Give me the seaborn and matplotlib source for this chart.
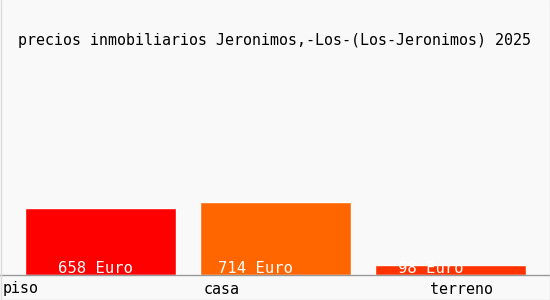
import matplotlib
matplotlib.use("Agg")
import matplotlib.pyplot as plt
import seaborn as sns
import pandas as pd
from matplotlib.lines import Line2D

categories = ["piso", "casa", "terreno"]
values = [658, 714, 98]
value_labels = ["658 Euro", "714 Euro", "98 Euro"]
colors = ["#ff0000", "#ff6600", "#ff3300"]
title = "precios inmobiliarios Jeronimos,-Los-(Los-Jeronimos) 2025"

df = pd.DataFrame({"cat": categories, "val": values})

sns.set_theme(style="white")
plt.rcParams["font.family"] = ["DejaVu Sans Mono"]

W, H = 550, 300
fig = plt.figure(figsize=(5.5, 3.0), dpi=100)
fig.patch.set_facecolor("#f9f9f9")
# axes from x=0..550, y=60..275 (pixels from top)
ax = fig.add_axes([0, (H - 275) / H, 1, (275 - 60) / H])
ax.set_facecolor("#f9f9f9")

sns.barplot(data=df, x="cat", y="val", hue="cat", palette=colors,
            width=151 / 175, legend=False, ax=ax, saturation=1)

ax.set_xlim(-100.5 / 175, (550 - 100.5) / 175)
ax.set_ylim(0, 2110)
ax.set_xticks([])
ax.set_yticks([])
ax.set_xlabel("")
ax.set_ylabel("")
for s in ["top", "left", "right"]:
    ax.spines[s].set_visible(False)
ax.spines["bottom"].set_color("#999999")
ax.spines["bottom"].set_linewidth(1)

# horizontal label offsets (pixels) relative to bar centre
label_dx = [-5, -20, -20]
for i, (lab, dx) in enumerate(zip(value_labels, label_dx)):
    ax.annotate(lab, xy=(i, 0), xytext=(dx * 0.72, 5.0), textcoords="offset points",
                ha="center", va="center", color="white", fontsize=11.2)

# category labels below the axis
label_px = [3, 204, 430]
for lab, px in zip(categories, label_px):
    fig.text(px / W, 1 - 289 / H, lab, ha="left", va="center",
             fontsize=10.8, color="black")

fig.text(275 / W, 1 - 40 / H, title, ha="center", va="center",
         fontsize=10.8, color="black")

# light frame on left/right/bottom
fig.add_artist(Line2D([0.5 / W, 0.5 / W], [0, 1], color="#dddddd", lw=1, transform=fig.transFigure))
fig.add_artist(Line2D([1 - 0.5 / W, 1 - 0.5 / W], [0, 1], color="#dddddd", lw=1, transform=fig.transFigure))
fig.add_artist(Line2D([0, 1], [0.5 / H, 0.5 / H], color="#dddddd", lw=1, transform=fig.transFigure))

fig.savefig("out.png", dpi=100, facecolor=fig.get_facecolor())
